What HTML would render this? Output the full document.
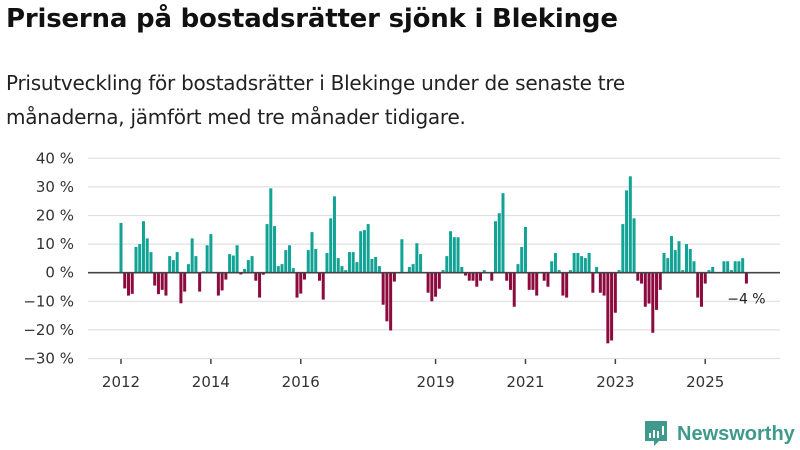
<!DOCTYPE html>
<html><head><meta charset="utf-8"><style>
body{margin:0;background:#fff;font-family:"Liberation Sans","DejaVu Sans",sans-serif;}
#wrap{position:relative;width:800px;height:450px;overflow:hidden;}
h1{position:absolute;left:6px;top:0;margin:0;font-size:26px;font-weight:bold;color:#111;line-height:38px;font-family:"DejaVu Sans","Liberation Sans",sans-serif;letter-spacing:-0.2px}
.sub{position:absolute;left:6px;top:66px;margin:0;font-size:20px;line-height:34px;color:#222;font-family:"DejaVu Sans","Liberation Sans",sans-serif;letter-spacing:-0.25px}
svg{position:absolute;left:0;top:0}
</style></head><body>
<div id="wrap">
<h1>Priserna på bostadsrätter sjönk i Blekinge</h1>
<p class="sub">Prisutveckling för bostadsrätter i Blekinge under de senaste tre<br>månaderna, jämfört med tre månader tidigare.</p>
<svg id="chart" width="800" height="450"></svg>
</div>
<script>
const values = [17.4,-5.5,-8,-7.4,9,10,18,12,7.2,-4.5,-7.5,-6,-8,5.8,4.4,7.2,-10.7,-6.6,3,12,5.8,-6.6,0.5,9.6,13.5,0,-8,-6.2,-2.4,6.5,6,9.6,-0.6,1.3,4.4,5.8,-2.8,-8.7,-0.7,17,29.5,16.3,2.3,3,7.9,9.6,1.6,-8.7,-7.3,-2.4,7.9,14.2,8.3,-2.8,-9.4,6.9,19,26.7,5.1,2.3,0.9,7.2,7.2,3.7,14.5,14.9,17,4.8,5.5,2.3,-11.2,-17,-20.2,-3.1,0,11.7,0,2,3,10.3,6.5,0,-7,-10,-8.4,-5.6,0.9,5.8,14.5,12.4,12.4,2,-1,-2.8,-2.8,-4.9,-2.8,0.9,0,-2.8,18,20.8,27.8,-2.8,-6,-11.9,3,9,16,-6,-6,-8,0,-2.8,-4.9,4,6.9,0.9,-8,-8.7,0.9,6.9,6.9,5.8,5.1,6.9,-7,2,-7,-8,-24.7,-23.7,-14,0.9,17,28.8,33.7,19,-2.8,-3.8,-11.9,-10.8,-21,-13,-6,6.9,5.1,12.8,7.9,11,0.9,10,8.3,4,-8.7,-11.9,-3.8,0.9,2,0,0,4,4,0.9,4,4,5.1,-3.8];
const startYear = 2012;
const yTicks = [40,30,20,10,0,-10,-20,-30];
const yearLabels = [2012,2014,2016,2019,2021,2023,2025];
const lastLabel = "−4 %";

const NS="http://www.w3.org/2000/svg";
const svg=document.getElementById('chart');
const y0=272.7, pxPer=2.86;
const y=v=>y0-v*pxPer;
const x0=121, step=3.745;
const x=i=>x0+i*step;
function mk(t,a){const e=document.createElementNS(NS,t);for(const k in a)e.setAttribute(k,a[k]);svg.appendChild(e);return e;}
yTicks.forEach(t=>{
  const l=mk('line',{x1:88,x2:780,y1:y(t),y2:y(t),stroke:'#e0e0e0','stroke-width':1.2});
  
  
  const tx=mk('text',{x:74,y:y(t)+5,'text-anchor':'end','font-size':15,fill:'#333','font-family':'DejaVu Sans, Liberation Sans, sans-serif'});
  tx.textContent=(t<0?'−'+(-t):t)+' %';
  
  
});
values.forEach((v,i)=>{
  const top=Math.min(y(v),y0), h=Math.abs(y(v)-y0);
  const r=mk('rect',{x:x(i)-1.5,y:top,width:3,height:h,fill:v>=0?'#12a396':'#8c0a3e'});
  
  
});
const zl=mk('line',{x1:88,x2:780,y1:y0,y2:y0,stroke:'#444','stroke-width':1.6});


yearLabels.forEach(yr=>{
  const xi=x((yr-startYear)*12);
  const tk=mk('line',{x1:xi,x2:xi,y1:359,y2:364,stroke:'#444','stroke-width':1.5});
  
  
  const t=mk('text',{x:xi,y:387,'text-anchor':'middle','font-size':15,fill:'#333','font-family':'DejaVu Sans, Liberation Sans, sans-serif'});
  t.textContent=yr;
  
  
});
const last=values.length-1;
const ll=mk('text',{x:x(last)+0,y:y(values[last])+20,'text-anchor':'middle','font-size':14,fill:'#222','font-family':'DejaVu Sans, Liberation Sans, sans-serif'});
ll.textContent=lastLabel;


// logo
const g=mk('g',{});


const ic=document.createElementNS(NS,'path');
ic.setAttribute('d','M645 421 h22 v20 h-8 l-5 5 v-5 h-9 z');
ic.setAttribute('fill','#3f9a8c');
g.appendChild(ic);
[[649,433,2,5],[653,430,2,8],[657,431,2,7],[662,426,2,9]].forEach(b=>{const r=document.createElementNS(NS,'rect');r.setAttribute('x',b[0]);r.setAttribute('y',b[1]);r.setAttribute('width',b[2]);r.setAttribute('height',b[3]);r.setAttribute('fill','#fff');g.appendChild(r);});
const lt=document.createElementNS(NS,'text');
lt.setAttribute('x',677);lt.setAttribute('y',440);lt.setAttribute('font-size',20);lt.setAttribute('font-weight','bold');lt.setAttribute('fill','#3f9a8c');lt.setAttribute('font-family','Liberation Sans, DejaVu Sans, sans-serif');
lt.textContent='Newsworthy';
g.appendChild(lt);
</script>
</body></html>
